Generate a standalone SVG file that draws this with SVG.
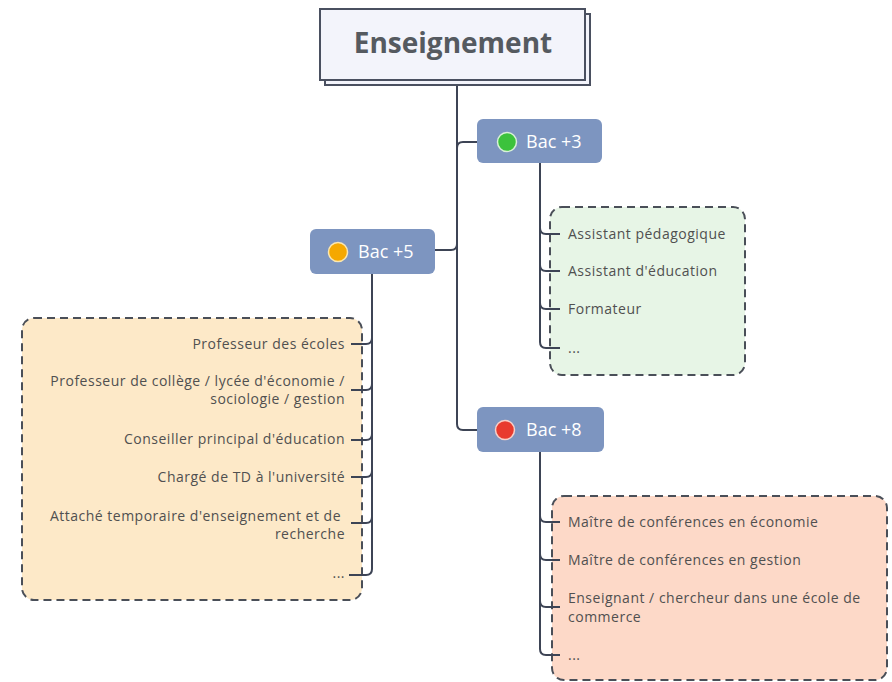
<svg xmlns="http://www.w3.org/2000/svg" width="892" height="682" viewBox="0 0 892 682">
<style>
  .bnd{stroke:#4a4f58;stroke-width:2;stroke-dasharray:8 5;}
  .con{fill:none;stroke:#3d4455;stroke-width:2;}
  .lvl{fill:#7d95c0;}
  .lvt{font-family:"Open Sans","Liberation Sans",sans-serif;font-size:18px;fill:#ffffff;}
  .t{font-family:"Open Sans","Liberation Sans",sans-serif;font-size:14px;letter-spacing:0.5px;fill:#505050;}
  .r{text-anchor:end;}
</style>
<rect width="892" height="682" fill="#ffffff"/>
<g id="boundaries">
  <rect class="bnd" x="550" y="207" width="195" height="168" rx="12" fill="#e7f5e6"/>
  <rect class="bnd" x="22" y="318" width="340" height="282" rx="12" fill="#fde9c8"/>
  <rect class="bnd" x="552" y="496" width="335" height="184" rx="12" fill="#fdd9c8"/>
</g>
<g id="connectors">
  <path class="con" d="M457,85 V424 Q457,430 463,430 H477"/>
  <path class="con" d="M457,148 Q457,142 463,142 H478"/>
  <path class="con" d="M457,244 Q457,250 451,250 H435"/>
  <path class="con" d="M540,163 V342 Q540,348 546,348 H560"/>
  <path class="con" d="M540,228 Q540,234 546,234 H560"/>
  <path class="con" d="M540,265 Q540,271 546,271 H560"/>
  <path class="con" d="M540,303 Q540,309 546,309 H560"/>
  <path class="con" d="M372,274 V569 Q372,575 366,575 H349"/>
  <path class="con" d="M372,338 Q372,344 366,344 H351"/>
  <path class="con" d="M372,384 Q372,390 366,390 H351"/>
  <path class="con" d="M372,434 Q372,440 366,440 H351"/>
  <path class="con" d="M372,471 Q372,477 366,477 H351"/>
  <path class="con" d="M372,517 Q372,523 366,523 H351"/>
  <path class="con" d="M540,452 V649 Q540,655 546,655 H560"/>
  <path class="con" d="M540,516 Q540,522 546,522 H560"/>
  <path class="con" d="M540,554 Q540,560 546,560 H560"/>
  <path class="con" d="M540,601 Q540,607 546,607 H560"/>
</g>
<g id="root">
  <rect x="325" y="14" width="265" height="71" fill="#f3f4fb" stroke="#4a5060" stroke-width="2"/>
  <rect x="320" y="9" width="265" height="71" fill="#f3f4fb" stroke="#4a5060" stroke-width="2"/>
  <text x="453" y="53" text-anchor="middle" font-family="'Open Sans','Liberation Sans',sans-serif" font-size="28" font-weight="bold" fill="#555a60">Enseignement</text>
</g>
<g id="bac3">
  <rect class="lvl" x="477" y="119" width="125" height="44" rx="6"/>
  <circle cx="507" cy="142" r="9.5" fill="#3cc23c" stroke="#d8f0d8" stroke-width="1.5"/>
  <text class="lvt" x="526" y="148">Bac +3</text>
</g>
<g id="bac5">
  <rect class="lvl" x="310" y="229" width="125" height="45" rx="6"/>
  <circle cx="338" cy="252" r="9.5" fill="#f5a800" stroke="#fbe7b0" stroke-width="1.5"/>
  <text class="lvt" x="358" y="258">Bac +5</text>
</g>
<g id="bac8">
  <rect class="lvl" x="477" y="407" width="127" height="45" rx="6"/>
  <circle cx="505" cy="430" r="9.5" fill="#e83a2e" stroke="#f8d0c8" stroke-width="1.5"/>
  <text class="lvt" x="526" y="436">Bac +8</text>
</g>
<g id="bac3-items">
  <text class="t" x="568" y="239">Assistant pédagogique</text>
  <text class="t" x="568" y="276">Assistant d'éducation</text>
  <text class="t" x="568" y="314">Formateur</text>
  <text class="t" x="568" y="353" font-size="9">...</text>
</g>
<g id="bac5-items">
  <text class="t r" x="345" y="349">Professeur des écoles</text>
  <text class="t r" x="345" y="386">Professeur de collège / lycée d'économie /</text>
  <text class="t r" x="345" y="404">sociologie / gestion</text>
  <text class="t r" x="345" y="444">Conseiller principal d'éducation</text>
  <text class="t r" x="345" y="482">Chargé de TD à l'université </text>
  <text class="t r" x="341" y="521">Attaché temporaire d'enseignement et de</text>
  <text class="t r" x="345" y="539">recherche</text>
  <text class="t r" x="345" y="578" font-size="9">...</text>
</g>
<g id="bac8-items">
  <text class="t" x="568" y="527">Maître de conférences en économie</text>
  <text class="t" x="568" y="565">Maître de conférences en gestion</text>
  <text class="t" x="568" y="603">Enseignant / chercheur dans une école de</text>
  <text class="t" x="568" y="622">commerce</text>
  <text class="t" x="568" y="660" font-size="9">...</text>
</g>
</svg>
